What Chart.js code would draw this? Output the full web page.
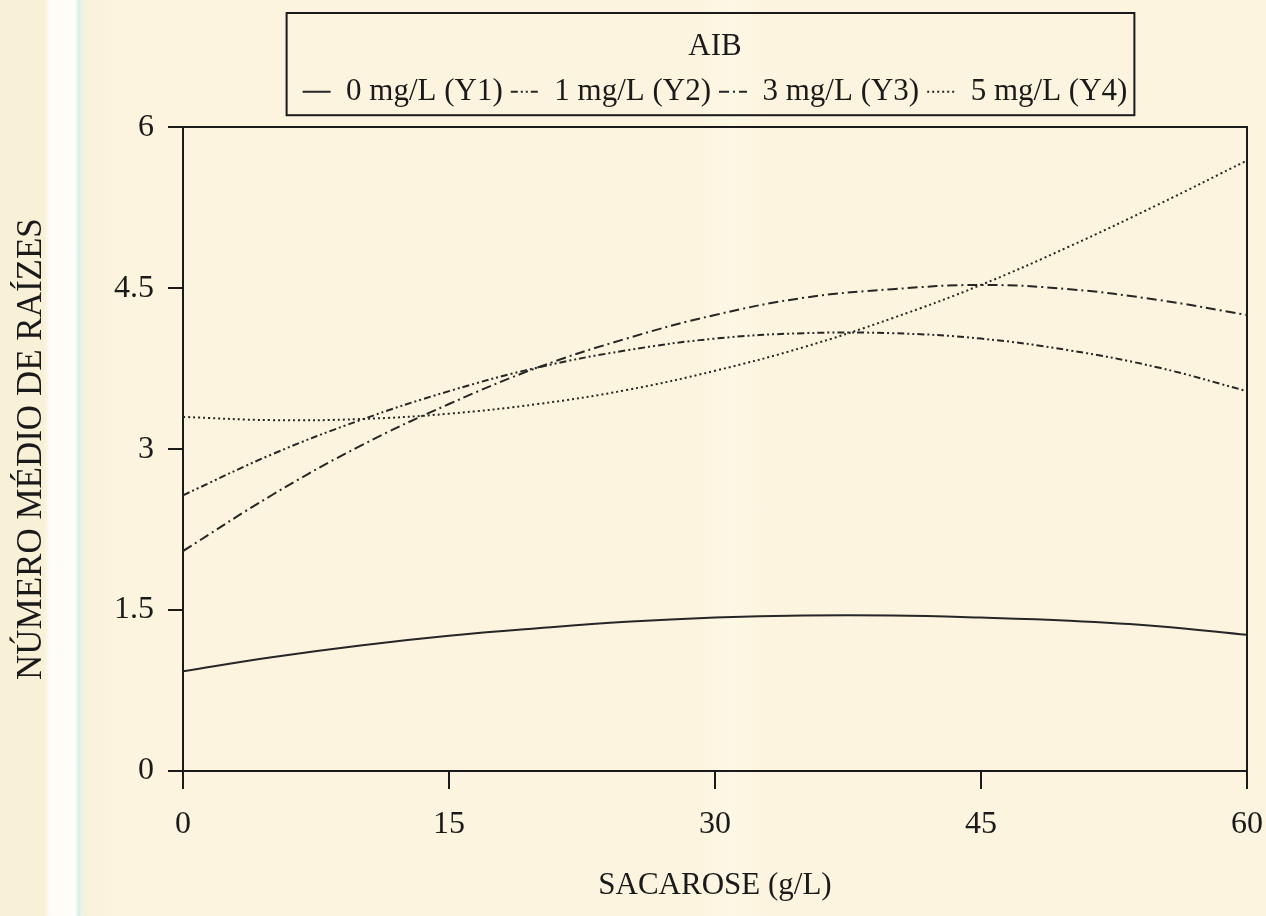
<!DOCTYPE html>
<html>
<head>
<meta charset="utf-8">
<script src="https://cdn.jsdelivr.net/npm/chart.js@4.4.1/dist/chart.umd.min.js"></script>
<style>
  html, body { margin: 0; padding: 0; }
  body {
    width: 1266px;
    height: 916px;
    overflow: hidden;
    background: linear-gradient(to right,
      #f9f0d8 0px, #f9f0d8 44px, #fdfcf6 50px, #fefefa 75px,
      #d3efe9 79px, #e9f3e6 81px, #f9f1da 86px, #fcf4de 120px,
      #fcf4de 700px, #fdf7e5 730px, #fcf4de 770px, #fcf4de 100%);
  }
  #wrap { position: relative; width: 1266px; height: 916px; }
</style>
</head>
<body>
<div id="wrap"><canvas id="chart"></canvas></div>
<script>
// sacarose (g/L) and the four fitted curves
const sacarose = [0, 5, 10, 15, 20, 25, 30, 35, 40, 45, 50, 55, 60]
const y1 = [0.93, 1.06, 1.17, 1.26, 1.33, 1.39, 1.43, 1.45, 1.45, 1.43, 1.40, 1.35, 1.27]
const y2 = [2.57, 2.95, 3.27, 3.54, 3.76, 3.92, 4.03, 4.08, 4.08, 4.03, 3.92, 3.76, 3.54]
const y3 = [2.05, 2.57, 3.03, 3.42, 3.76, 4.03, 4.25, 4.41, 4.49, 4.53, 4.49, 4.39, 4.25]
const y4 = [3.30, 3.27, 3.28, 3.33, 3.42, 3.55, 3.73, 3.95, 4.22, 4.53, 4.89, 5.28, 5.69]

const seriesLabels = ["0 mg/L (Y1)", "1 mg/L (Y2)", "3 mg/L (Y3)", "5 mg/L (Y4)"]
const xTicks = [0, 15, 30, 45, 60]
const yTicks = [0, 1.5, 3, 4.5, 6]

const serif = "'Liberation Serif', 'Times New Roman', serif"
const ink = "#1a1a1a"
const lineInk = "#262626"

const toPoints = (arr) => sacarose.map((x, i) => ({ x, y: arr[i] }))

// Chart.js legends have no border, so draw the frame around the legend items
const legendFrame = {
    id: "legendFrame",
    afterDraw(chart) {
        const lg = chart.legend
        if (!lg || !lg.legendHitBoxes || !lg.legendHitBoxes.length) return
        const boxes = lg.legendHitBoxes
        const last = boxes[boxes.length - 1]
        const left = boxes[0].left - 16
        const right = last.left + last.width + 7
        const ctx = chart.ctx
        ctx.save()
        ctx.strokeStyle = ink
        ctx.lineWidth = 2
        ctx.strokeRect(left, lg.top, right - left, lg.bottom - lg.top - 2)
        ctx.restore()
    },
}

const makeSet = (i, data, dash) => ({
    label: seriesLabels[i],
    data: toPoints(data),
    borderColor: lineInk,
    backgroundColor: "transparent",
    borderWidth: 2,
    borderDash: dash,
})

new Chart(document.getElementById("chart"), {
    type: "line",
    data: {
        datasets: [
            makeSet(0, y1, []),
            makeSet(1, y2, [7, 3, 2, 3, 2, 3]),
            makeSet(2, y3, [10, 4, 2, 4]),
            makeSet(3, y4, [2, 3]),
        ],
    },
    plugins: [legendFrame],
    options: {
        responsive: true,
        maintainAspectRatio: false,
        animation: false,
        layout: { padding: { top: 13, left: 0, right: 0, bottom: 0 } },
        elements: {
            point: { radius: 0 },
            line: { tension: 0.4 },
        },
        plugins: {
            tooltip: { enabled: false },
            legend: {
                fullSize: false,
                labels: {
                    font: { family: serif, size: 31 },
                    color: ink,
                    usePointStyle: true,
                    pointStyle: "line",
                    pointStyleWidth: 28,
                    boxHeight: 10,
                    padding: 8,
                    // point-style items lose the dataset dash, put it back
                    generateLabels: (chart) => {
                        const items = Chart.defaults.plugins.legend.labels.generateLabels(chart)
                        items.forEach((item) => {
                            const ds = chart.data.datasets[item.datasetIndex]
                            item.lineDash = ds.borderDash
                            item.lineWidth = 2
                            item.strokeStyle = ds.borderColor
                        })
                        return items
                    },
                },
                title: {
                    display: true,
                    text: "AIB",
                    color: ink,
                    font: { family: serif, size: 31 },
                    padding: { top: 18, bottom: 0 },
                },
            },
        },
        scales: {
            x: {
                type: "linear",
                position: "bottom",
                min: 0,
                max: 60,
                afterBuildTicks: (s) => {
                    s.ticks = xTicks.map((v) => ({ value: v }))
                },
                afterFit: (s) => {
                    s.height = 145
                },
                grid: { drawOnChartArea: false, tickLength: 18, color: ink, lineWidth: 2 },
                border: { color: ink, width: 2 },
                ticks: {
                    font: { family: serif, size: 32, lineHeight: 2.1 },
                    color: ink,
                    padding: 2,
                    callback: (v) => String(v),
                },
                title: {
                    display: true,
                    text: "SACAROSE (g/L)",
                    color: ink,
                    font: { family: serif, size: 31 },
                    padding: { top: 0, bottom: 12 },
                },
            },
            xTop: {
                type: "linear",
                position: "top",
                min: 0,
                max: 60,
                afterFit: (s) => {
                    s.height = 10
                },
                grid: { display: false },
                ticks: { display: false },
                border: { color: ink, width: 2 },
            },
            y: {
                type: "linear",
                position: "left",
                min: 0,
                max: 6,
                afterBuildTicks: (s) => {
                    s.ticks = yTicks.map((v) => ({ value: v }))
                },
                afterFit: (s) => {
                    s.width = 183
                },
                grid: { drawOnChartArea: false, tickLength: 15, color: ink, lineWidth: 2 },
                border: { color: ink, width: 2 },
                ticks: {
                    font: { family: serif, size: 32 },
                    color: ink,
                    padding: 14,
                    callback: (v) => String(v),
                },
                title: {
                    display: true,
                    text: "NÚMERO MÉDIO DE RAÍZES",
                    color: ink,
                    font: { family: serif, size: 35 },
                    padding: { top: 11, bottom: 0 },
                },
            },
            yRight: {
                type: "linear",
                position: "right",
                min: 0,
                max: 6,
                afterFit: (s) => {
                    s.width = 19
                },
                grid: { display: false },
                ticks: { display: false },
                border: { color: ink, width: 2 },
            },
        },
    },
})
</script>
</body>
</html>
